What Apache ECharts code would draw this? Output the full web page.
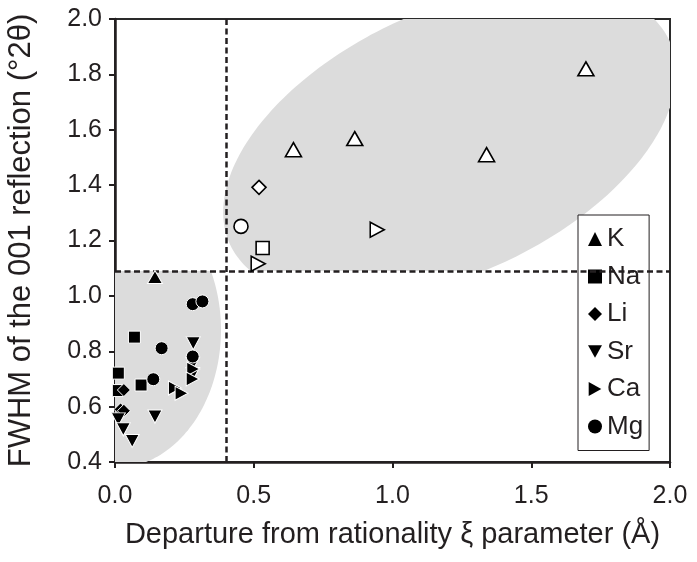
<!DOCTYPE html>
<html><head><meta charset="utf-8">
<script src="https://cdn.jsdelivr.net/npm/echarts@6/dist/echarts.min.js"></script>
<style>html,body{margin:0;padding:0;background:#fff}#c{width:697px;height:562px}</style>
</head><body><div id="c"></div>
<script>
// ---- data ----
const seriesNames = ['K', 'Na', 'Li', 'Sr', 'Ca', 'Mg'];
// filled markers [xi (Å), FWHM (°2θ)]
const K_filled  = [[0.144, 1.068]];
const Na_filled = [[0.070, 0.851], [0.012, 0.721], [0.094, 0.678], [0.012, 0.658]];
const Li_filled = [[0.032, 0.660], [0.020, 0.590], [0.032, 0.585]];
const Sr_filled = [[0.282, 0.829], [0.280, 0.755], [0.280, 0.718], [0.144, 0.564], [0.012, 0.554], [0.030, 0.518], [0.062, 0.476]];
const Ca_filled = [[0.282, 0.736], [0.280, 0.700], [0.216, 0.667], [0.240, 0.648]];
const Mg_filled = [[0.280, 0.970], [0.315, 0.980], [0.168, 0.811], [0.280, 0.781], [0.138, 0.699]];
// open markers
const K_open  = [[0.643, 1.528], [0.864, 1.568], [1.339, 1.510], [1.697, 1.820]];
const Na_open = [[0.532, 1.173]];
const Li_open = [[0.519, 1.392]];
const Ca_open = [[0.516, 1.116], [0.945, 1.239]];
const Mg_open = [[0.454, 1.251]];
// threshold lines
const xThreshold = 0.4;
const yThreshold = 1.09;
// axes
const xMin = 0, xMax = 2.0, xStep = 0.5;
const yMin = 0.4, yMax = 2.0, yStep = 0.2;
// shaded regions (ellipses in data units)
const upperRegion = { cx: 1.206, cy: 1.554, rx: 0.873, ry: 0.475, angle: 25 };
const lowerRegion = { cx: 0.0, cy: 0.877, rx: 0.382, ry: 0.499, angle: 0 };

// ---- helpers ----
const INK = '#231f20';
const FONT = "'Liberation Sans', Arial, sans-serif";
const SYM = {
  K: 'triangle',
  Na: 'rect',
  Li: 'diamond',
  Sr: 'path://M0,0L10,0L5,9Z',
  Ca: 'path://M0,0L9,5L0,10Z',
  Mg: 'circle'
};
const SIZE = { K: [15, 13], Na: 12, Li: 13, Sr: [14, 13], Ca: [13, 14], Mg: 13 };

function clipHalf(pts, yc, keepAbove) {
  const inside = p => keepAbove ? p[1] >= yc : p[1] <= yc;
  const out = [];
  for (let i = 0; i < pts.length; i++) {
    const a = pts[i], b = pts[(i + 1) % pts.length];
    const ia = inside(a), ib = inside(b);
    if (ia) out.push(a);
    if (ia !== ib) {
      const t = (yc - a[1]) / (b[1] - a[1]);
      out.push([a[0] + t * (b[0] - a[0]), yc]);
    }
  }
  return out;
}

function regionSeries(e, keepAbove) {
  return {
    type: 'custom', silent: true, z: 1, clip: true,
    data: [[e.cx, e.cy]],
    renderItem: function (params, api) {
      const th = e.angle * Math.PI / 180;
      let pts = [];
      for (let i = 0; i < 240; i++) {
        const t = i / 240 * 2 * Math.PI;
        pts.push([
          e.cx + e.rx * Math.cos(t) * Math.cos(th) - e.ry * Math.sin(t) * Math.sin(th),
          e.cy + e.rx * Math.cos(t) * Math.sin(th) + e.ry * Math.sin(t) * Math.cos(th)
        ]);
      }
      pts = clipHalf(pts, yThreshold, keepAbove);
      const cs = params.coordSys;
      return {
        type: 'polygon',
        shape: { points: pts.map(p => api.coord(p)) },
        style: { fill: '#dcdcdc' },
        clipPath: { type: 'rect', shape: { x: cs.x, y: cs.y, width: cs.width, height: cs.height } }
      };
    }
  };
}

function filled(name, data) {
  return {
    name: name, type: 'scatter', data: data, z: 5,
    symbol: SYM[name], symbolSize: SIZE[name],
    itemStyle: { color: '#000', borderColor: '#fff', borderWidth: 1, opacity: 1 }
  };
}
function open(name, data) {
  return {
    name: name + ' open', type: 'scatter', data: data, z: 5,
    symbol: SYM[name], symbolSize: Array.isArray(SIZE[name]) ? SIZE[name].map(v => v + 1) : SIZE[name] + 1,
    itemStyle: { color: '#fff', borderColor: '#000', borderWidth: 1.6, opacity: 1 }
  };
}

const chart = echarts.init(document.getElementById('c'), null, { renderer: 'canvas' });
chart.setOption({
  backgroundColor: '#fff',
  animation: false,
  textStyle: { fontFamily: FONT },
  grid: { left: 115, right: 27, top: 19, bottom: 100, show: true, borderColor: '#2a2a2a', borderWidth: 2, outerBoundsMode: 'none', containLabel: false },
  xAxis: {
    type: 'value', min: xMin, max: xMax, interval: xStep,
    name: 'Departure from rationality \u03BE parameter (\u00C5)',
    nameLocation: 'middle', nameGap: 58,
    nameTextStyle: { fontSize: 29, color: INK, fontFamily: FONT },
    axisLine: { show: true, onZero: false, lineStyle: { color: INK, width: 2.5 } },
    axisTick: { show: true, length: 6, lineStyle: { color: INK, width: 2 } },
    axisLabel: { fontSize: 25, color: INK, margin: 22, fontFamily: FONT, formatter: v => v.toFixed(1) },
    splitLine: { show: false }
  },
  yAxis: {
    type: 'value', min: yMin, max: yMax, interval: yStep,
    name: 'FWHM of the 001 reflection (\u00B02\u03B8)',
    nameLocation: 'middle', nameGap: 78, nameRotate: 90,
    nameTextStyle: { fontSize: 31, color: INK, fontFamily: FONT },
    axisLine: { show: true, onZero: false, lineStyle: { color: INK, width: 2.5 } },
    axisTick: { show: true, length: 6, lineStyle: { color: INK, width: 2 } },
    axisLabel: { fontSize: 25, color: INK, margin: 13, fontFamily: FONT, formatter: v => v.toFixed(1) },
    splitLine: { show: false }
  },
  legend: {
    orient: 'vertical', left: 578, top: 215,
    data: seriesNames,
    itemWidth: 14, itemHeight: 14, itemGap: 11.5,
    padding: [11, 6, 11, 10],
    backgroundColor: '#fff', borderColor: INK, borderWidth: 1,
    textStyle: { fontSize: 26, color: INK, fontFamily: FONT, lineHeight: 26 },
    itemStyle: { borderWidth: 0, color: '#000' }
  },
  series: [
    regionSeries(upperRegion, true),
    regionSeries(lowerRegion, false),
    {
      type: 'scatter', data: [], z: 3, silent: true,
      markLine: {
        silent: true, symbol: 'none', label: { show: false },
        lineStyle: { color: INK, width: 2.5, type: [6, 3.5] },
        data: [{ xAxis: xThreshold }, { yAxis: yThreshold }]
      }
    },
    filled('K', K_filled), filled('Na', Na_filled), filled('Li', Li_filled),
    filled('Sr', Sr_filled), filled('Ca', Ca_filled), filled('Mg', Mg_filled),
    open('K', K_open), open('Na', Na_open), open('Li', Li_open),
    open('Ca', Ca_open), open('Mg', Mg_open)
  ]
});
</script>
</body></html>
